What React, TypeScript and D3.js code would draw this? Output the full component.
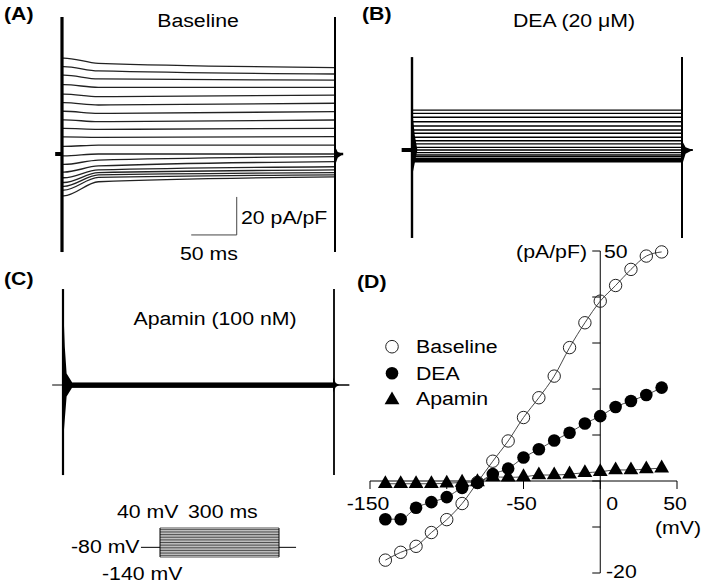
import React from "react";
import * as d3 from "d3";

// I-V data (D panel): test potential (mV) vs current density (pA/pF)
const voltages = [-140, -130, -120, -110, -100, -90, -80, -70, -60, -50, -40, -30, -20, -10, 0, 10, 20, 30, 40];
const baselineIV = [-17.2, -15.5, -14.2, -11.2, -8.4, -4.9, -0.3, 4.3, 8.7, 13.8, 18.1, 22.8, 29.0, 34.4, 39.1, 42.5, 46.0, 48.9, 49.8];
const deaIV = [-8.3, -8.3, -5.8, -4.6, -3.5, -1.5, -0.4, 1.5, 2.7, 5.1, 6.9, 8.8, 10.5, 12.5, 14.1, 16.1, 17.4, 18.7, 20.3];
const apaminIV = [-0.6, -0.6, -0.6, -0.6, -0.5, -0.3, -0.2, 0.9, 0.8, 0.9, 1.3, 1.3, 1.5, 1.8, 2.0, 2.4, 2.4, 2.6, 2.8];

const xTicksD = [-150, -100, -50, 0, 50];
const xTickLabelsD = ["-150", "", "-50", "0", "50"];
const yTicksD = [-20, -10, 0, 10, 20, 30, 40, 50];

// current traces (pA/pF), one per test step, read at these times (ms)
const traceTimes = [2, 40, 300];
const baseEarly = [-22, -19, -17, -15, -12.5, -9.5, -5.5, -1, 4, 9, 13.5, 18, 22.5, 27, 31.5, 36.5, 41.5, 46, 50.5];
const baseMid = [-14.6, -12.3, -11, -9.8, -8.4, -6.3, -3.2, 0, 4.7, 8.8, 13, 17, 21.4, 25.8, 30.2, 35.1, 39.5, 43.7, 47.7];
const baseEnd = [-12, -11, -9.8, -8.4, -6.7, -4, -1.4, 0, 4.7, 9.1, 13.5, 17.9, 22.3, 26.7, 31, 35.1, 38.9, 42.1, 45.5];
const deaLevels = [-6.2, -5.6, -4.9, -4.4, -3.5, -2.6, -1.4, 0, 1.4, 3.2, 4.9, 6.7, 8.8, 10.5, 12.6, 14.9, 17.2, 19.3, 21];
const apaminLevels = [-1.2, -1, -0.9, -0.8, -0.7, -0.5, -0.3, -0.1, 0, 0.1, 0.2, 0.3, 0.4, 0.5, 0.6, 0.7, 0.8, 0.9, 1.0];

// capacitive transients: [bottom, top] (pA/pF) and tails as [ms, pA/pF]
const spikeA = [-51.6, 72.1];
const spikeB = [-46.3, 48.9];
const spikeC = [-47.4, 50.5];
const offTailA = [[300, 4], [303, 1], [309, 0], [303, -2], [300, -6]];
const onTailB = [[0, 22], [3, 8], [6, 0], [3, -7], [0, -14]];
const offTailB = [[300, 5], [304, 1.5], [312, 0], [304, -2], [300, -8]];
const onTailC = [[0, 45], [2, 20], [4, 6], [10, 1.5], [10, -1.5], [4, -6], [2, -18], [0, -30]];
const offTailC = [[299, 4], [302, 1], [306, 0], [302, -1], [299, -4]];

// protocol: step potentials (mV)
const stepLevels = voltages;
const holding = -80;

const FONT = "'Liberation Sans', Arial, Helvetica, sans-serif";
const SX = 1.12;

function Label(props: { x: number; y: number; text: string; anchor?: string; bold?: boolean }) {
  const { x, y, text, anchor = "start", bold = false } = props;
  return (
    <text
      transform={`translate(${x},${y}) scale(${SX},1)`}
      textAnchor={anchor}
      fontFamily={FONT}
      fontSize={19}
      fontWeight={bold ? "bold" : "normal"}
      fill="#000"
    >
      {text}
    </text>
  );
}

type Sc = d3.ScaleLinear<number, number>;

function TracePanel(props: {
  x: Sc; y: Sc; traces: number[][][]; spike: number[]; stubL: number; stubR: number;
  stubW: number; stubRW: number; spikeW: number; spikeRW: number;
  onTail?: number[][]; offTail?: number[][]; color: string; width: number;
}) {
  const { x, y, traces, spike, stubL, stubR, stubW, stubRW, spikeW, spikeRW, onTail, offTail, color, width } = props;
  const line = d3.line<number[]>().x((d) => x(d[0])).y((d) => y(d[1])).curve(d3.curveMonotoneX);
  const poly = d3.line<number[]>().x((d) => x(d[0])).y((d) => y(d[1]));
  return (
    <g>
      {traces.map((t, i) => (
        <path key={i} d={line(t) || ""} fill="none" stroke={color} strokeWidth={width} />
      ))}
      <line x1={x(stubL)} x2={x(0)} y1={y(0)} y2={y(0)} stroke="#000" strokeWidth={stubW} />
      <line x1={x(300)} x2={x(stubR)} y1={y(0)} y2={y(0)} stroke="#000" strokeWidth={stubRW} />
      <line x1={x(0)} x2={x(0)} y1={y(spike[1])} y2={y(spike[0])} stroke="#000" strokeWidth={spikeW} />
      <line x1={x(300)} x2={x(300)} y1={y(spike[1])} y2={y(spike[0])} stroke="#000" strokeWidth={spikeRW} />
      {onTail && <path d={(poly(onTail) || "") + "Z"} fill="#000" />}
      {offTail && <path d={(poly(offTail) || "") + "Z"} fill="#000" />}
    </g>
  );
}

export default function App() {
  // panel A
  const xA = d3.scaleLinear().domain([0, 300]).range([62, 335]);
  const yA = d3.scaleLinear().domain([0, 20]).range([154, 116]);
  const tracesA = baseEarly.map((v, i) => [
    [0, v], [traceTimes[0], v], [traceTimes[1], baseMid[i]], [traceTimes[2], baseEnd[i]],
  ]);
  // panel B
  const xB = d3.scaleLinear().domain([0, 300]).range([412, 682]);
  const yB = d3.scaleLinear().domain([0, 20]).range([150, 112]);
  const tracesB = deaLevels.map((v) => [[0, v], [300, v]]);
  // panel C
  const xC = d3.scaleLinear().domain([0, 300]).range([63, 334]);
  const yC = d3.scaleLinear().domain([0, 20]).range([385, 347]);
  const tracesC = apaminLevels.map((v) => [[0, v], [300, v]]);

  // protocol
  const xP = d3.scaleLinear().domain([0, 300]).range([160, 279]);
  const yP = d3.scaleLinear().domain([-140, 40]).range([557, 528]);

  // panel D
  const xD = d3.scaleLinear().domain([-150, 50]).range([370, 677]);
  const yD = d3.scaleLinear().domain([-20, 50]).range([573, 251]);
  const ivLine = d3
    .line<number>()
    .x((_, i) => xD(voltages[i]))
    .y((d) => yD(d))
    .curve(d3.curveMonotoneX);
  const tri = d3.symbol().type(d3.symbolTriangle).size(95)() || "";

  return (
    <svg width={706} height={587} style={{ position: "absolute", left: 0, top: 0, background: "#fff" }}>
      <rect width={706} height={587} fill="#fff" />

      {/* (A) baseline traces */}
      <Label x={4} y={20} text="(A)" bold />
      <Label x={198} y={27} text="Baseline" anchor="middle" />
      <TracePanel x={xA} y={yA} traces={tracesA} spike={spikeA} stubL={-7.5} stubR={309}
        stubW={4} stubRW={2.5} spikeW={3.2} spikeRW={2} offTail={offTailA} color="#222" width={1.3} />
      <line x1={xA(192)} x2={xA(192)} y1={yA(-22.6)} y2={yA(-42.6)} stroke="#444" strokeWidth={1} />
      <line x1={xA(142)} x2={xA(192)} y1={yA(-42.6)} y2={yA(-42.6)} stroke="#444" strokeWidth={1} />
      <Label x={241} y={224} text="20 pA/pF" />
      <Label x={180} y={260} text="50 ms" />

      {/* (B) DEA traces */}
      <Label x={362} y={20} text="(B)" bold />
      <Label x={574} y={27} text="DEA (20 μM)" anchor="middle" />
      <TracePanel x={xB} y={yB} traces={tracesB} spike={spikeB} stubL={-11.5} stubR={312}
        stubW={4} stubRW={2} spikeW={2.4} spikeRW={2} onTail={onTailB} offTail={offTailB} color="#000" width={1.4} />

      {/* (C) apamin traces */}
      <Label x={4} y={285} text="(C)" bold />
      <Label x={215} y={325} text="Apamin (100 nM)" anchor="middle" />
      <TracePanel x={xC} y={yC} traces={tracesC} spike={spikeC} stubL={-12} stubR={317}
        stubW={1} stubRW={1.5} spikeW={2.2} spikeRW={1.8} onTail={onTailC} offTail={offTailC} color="#000" width={1} />

      {/* protocol */}
      <line x1={xP(-48)} x2={xP(0)} y1={yP(holding)} y2={yP(holding)} stroke="#000" strokeWidth={1} />
      <line x1={xP(300)} x2={xP(343)} y1={yP(holding)} y2={yP(holding)} stroke="#000" strokeWidth={1} />
      {stepLevels.map((v) => (
        <line key={v} x1={xP(0)} x2={xP(300)} y1={yP(v)} y2={yP(v)} stroke="#222" strokeWidth={0.8} />
      ))}
      <line x1={xP(0)} x2={xP(0)} y1={yP(-140)} y2={yP(40)} stroke="#000" strokeWidth={1} />
      <line x1={xP(300)} x2={xP(300)} y1={yP(-140)} y2={yP(40)} stroke="#000" strokeWidth={1} />
      <Label x={117} y={518} text="40 mV" />
      <Label x={188} y={518} text="300 ms" />
      <Label x={71} y={553} text="-80 mV" />
      <Label x={102} y={580} text="-140 mV" />

      {/* (D) I-V relation */}
      <Label x={357} y={288} text="(D)" bold />
      <g>
        <line x1={xD(-150)} x2={xD(50)} y1={yD(0)} y2={yD(0)} stroke="#000" strokeWidth={1} />
        {xTicksD.map((t) => (
          <line key={t} x1={xD(t)} x2={xD(t)} y1={yD(0)} y2={yD(0) + 8} stroke="#000" strokeWidth={1} />
        ))}
        <line x1={xD(0)} x2={xD(0)} y1={yD(-20)} y2={yD(50)} stroke="#000" strokeWidth={1} />
        {yTicksD.map((t) => (
          <line key={t} x1={xD(0) - 8} x2={xD(0)} y1={yD(t)} y2={yD(t)} stroke="#000" strokeWidth={1} />
        ))}
        {xTicksD.map((t, i) =>
          xTickLabelsD[i] ? (
            <Label key={t} x={xD(t) + (t === 0 ? 12 : -2)} y={510} text={xTickLabelsD[i]} anchor="middle" />
          ) : null
        )}
        <Label x={678} y={534} text="(mV)" anchor="middle" />
        <Label x={604} y={258} text="50" />
        <Label x={587} y={258} text="(pA/pF)" anchor="end" />
        <Label x={606} y={578} text="-20" />
      </g>
      <path d={ivLine(baselineIV) || ""} fill="none" stroke="#333" strokeWidth={0.9} />
      <path d={ivLine(deaIV) || ""} fill="none" stroke="#333" strokeWidth={0.9} />
      <path d={ivLine(apaminIV) || ""} fill="none" stroke="#333" strokeWidth={0.9} />
      {baselineIV.map((v, i) => (
        <circle key={"b" + i} cx={xD(voltages[i])} cy={yD(v)} r={6.2} fill="none" stroke="#222" strokeWidth={1} />
      ))}
      {deaIV.map((v, i) => (
        <circle key={"d" + i} cx={xD(voltages[i])} cy={yD(v)} r={6.3} fill="#000" />
      ))}
      {apaminIV.map((v, i) => (
        <path key={"a" + i} d={tri} transform={`translate(${xD(voltages[i])},${yD(v)})`} fill="#000" />
      ))}

      {/* legend */}
      <circle cx={392} cy={346.7} r={6.3} fill="none" stroke="#222" strokeWidth={1} />
      <Label x={416} y={353} text="Baseline" />
      <circle cx={392} cy={373.3} r={6.3} fill="#000" />
      <Label x={416} y={380} text="DEA" />
      <path d={tri} transform="translate(392,400)" fill="#000" />
      <Label x={416} y={405} text="Apamin" />
    </svg>
  );
}
